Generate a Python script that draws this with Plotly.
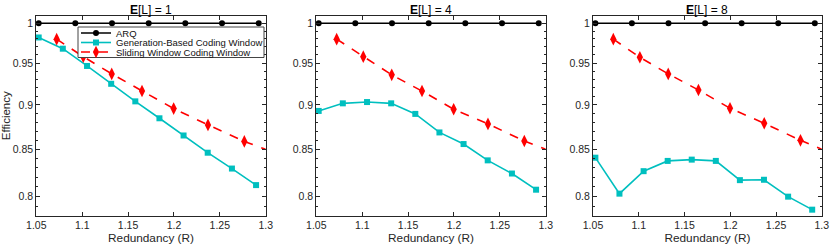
import plotly.graph_objects as go

# ---------------- data ----------------
panel_titles = ["<b>E</b>[L] = 1", "<b>E</b>[L] = 4", "<b>E</b>[L] = 8"]
series_names = ["ARQ", "Generation-Based Coding Window", "Sliding Window Coding Window"]

arq_x = [1.0526, 1.0925, 1.1325, 1.1725, 1.2124, 1.2524, 1.2924]
arq_y = [1, 1, 1, 1, 1, 1, 1]

gen_x = [1.0526, 1.0789, 1.1053, 1.1316, 1.1579, 1.1842, 1.2105, 1.2368, 1.2632, 1.2895]
gen_y1 = [0.9818, 0.9677, 0.9464, 0.9249, 0.9042, 0.8847, 0.8653, 0.8463, 0.8292, 0.8117]
gen_y4 = [0.8931, 0.9019, 0.9034, 0.9019, 0.8897, 0.8687, 0.8558, 0.8380, 0.8239, 0.8069]
gen_y8 = [0.8409, 0.8028, 0.8264, 0.8374, 0.8388, 0.8374, 0.8169, 0.8173, 0.7997, 0.7864]

sw_x = [1.0722, 1.1012, 1.1322, 1.1652, 1.1997, 1.2371, 1.2767]
sw_y1 = [0.9797, 0.9578, 0.9368, 0.9163, 0.8958, 0.8772, 0.8587]
sw_y4 = [0.9797, 0.9578, 0.9356, 0.9163, 0.8950, 0.8783, 0.8591]
sw_y8 = [0.9797, 0.9570, 0.9368, 0.9175, 0.8962, 0.8790, 0.8599]
sw_end_x = 1.30
sw_end_y = 0.850

x_ticks = [1.05, 1.1, 1.15, 1.2, 1.25, 1.3]
x_tick_text = ["1.05", "1.1", "1.15", "1.2", "1.25", "1.3"]
y_ticks = [0.8, 0.85, 0.9, 0.95, 1.0]
y_tick_text = ["0.8", "0.85", "0.9", "0.95", "1"]
y_minor = [0.79, 0.81, 0.82, 0.83, 0.84, 0.86, 0.87, 0.88, 0.89,
           0.91, 0.92, 0.93, 0.94, 0.96, 0.97, 0.98, 0.99]

gen_sets = [gen_y1, gen_y4, gen_y8]
sw_sets = [sw_y1, sw_y4, sw_y8]

# ---------------- styling ----------------
W, H = 830, 245
x_px = [(36.3, 265.7), (316.3, 545.7), (593.0, 821.8)]
y_top, y_bot = 15.5, 216.0
CYAN = "#00BFBF"
RED = "#FF0000"
AX = "#262626"
FONT = "Liberation Sans, Arial, sans-serif"


def px(v):
    return v / W


def py(v):
    return 1 - v / H


fig = go.Figure()

for i in range(3):
    xa = "x" if i == 0 else f"x{i+1}"
    ya = "y" if i == 0 else f"y{i+1}"
    leg = i == 0
    fig.add_trace(go.Scatter(x=arq_x, y=arq_y, mode="lines+markers", name=series_names[0],
                             line=dict(color="black", width=1.6),
                             marker=dict(symbol="circle", size=6, color="black"),
                             xaxis=xa, yaxis=ya, showlegend=leg, legend="legend",
                             cliponaxis=False))
    fig.add_trace(go.Scatter(x=gen_x, y=gen_sets[i], mode="lines+markers",
                             name=series_names[1],
                             line=dict(color=CYAN, width=1.6),
                             marker=dict(symbol="square", size=6, color=CYAN),
                             xaxis=xa, yaxis=ya, showlegend=leg, legend="legend2",
                             cliponaxis=False))
    fig.add_trace(go.Scatter(x=sw_x, y=sw_sets[i], mode="lines+markers",
                             name=series_names[2],
                             line=dict(color=RED, width=1.6, dash="dash"),
                             marker=dict(symbol="diamond-tall", size=9, color=RED),
                             xaxis=xa, yaxis=ya, showlegend=leg, legend="legend3",
                             cliponaxis=False))
    fig.add_trace(go.Scatter(x=[sw_x[-1], sw_end_x], y=[sw_sets[i][-1], sw_end_y],
                             mode="lines", line=dict(color=RED, width=1.6, dash="dash"),
                             xaxis=xa, yaxis=ya, showlegend=False, hoverinfo="skip"))

leg_left = 76
row_centers = [33.0, 42.5, 52.0]


def leg_cfg(yc):
    return dict(x=px(leg_left), y=py(yc), xanchor="left", yanchor="middle",
                bgcolor="rgba(0,0,0,0)", borderwidth=0,
                font=dict(size=9.5, color="#111111"), itemwidth=30)


layout = dict(
    template="none",
    width=W, height=H,
    margin=dict(l=0, r=0, t=0, b=0, pad=0),
    paper_bgcolor="white", plot_bgcolor="white",
    font=dict(family=FONT, size=10.5, color=AX),
    showlegend=True,
    legend=leg_cfg(row_centers[0]),
    legend2=leg_cfg(row_centers[1]),
    legend3=leg_cfg(row_centers[2]),
    shapes=[dict(type="rect", xref="paper", yref="paper", layer="above",
                 x0=px(leg_left + 2), x1=px(264), y0=py(57.5), y1=py(27),
                 fillcolor="white", line=dict(color="#444444", width=1))],
    annotations=[],
)

for i in range(3):
    xk = "xaxis" if i == 0 else f"xaxis{i+1}"
    yk = "yaxis" if i == 0 else f"yaxis{i+1}"
    xa_ref = "x" if i == 0 else f"x{i+1}"
    ya_ref = "y" if i == 0 else f"y{i+1}"
    x0, x1 = x_px[i]
    layout[xk] = dict(domain=[px(x0), px(x1)], anchor=ya_ref, range=[1.05, 1.3],
                      automargin=False,
                      tickvals=x_ticks, ticktext=x_tick_text,
                      ticks="inside", ticklen=4, tickcolor=AX,
                      ticklabelstandoff=-1,
                      showline=True, linecolor=AX, linewidth=1, mirror="allticks",
                      showgrid=False, zeroline=False,
                      tickfont=dict(size=10.5, color=AX),
                      title=dict(text="Redundancy (R)", font=dict(size=11.8, color=AX), standoff=0))
    layout[yk] = dict(domain=[py(y_bot), py(y_top)], anchor=xa_ref, type="log",
                      automargin=False,
                      range=[-0.1079, 0.00432],
                      tickvals=y_ticks, ticktext=y_tick_text,
                      ticks="inside", ticklen=4, tickcolor=AX,
                      minor=dict(tickvals=y_minor, ticks="inside", ticklen=2, tickcolor=AX),
                      showline=True, linecolor=AX, linewidth=1, mirror="allticks",
                      showgrid=False, zeroline=False,
                      tickfont=dict(size=10.5, color=AX))
    if i == 0:
        layout[yk]["title"] = dict(text="Efficiency", font=dict(size=11.5, color=AX), standoff=4)
    layout["annotations"].append(dict(text=panel_titles[i], x=px((x0 + x1) / 2), y=py(1),
                                      xref="paper", yref="paper", xanchor="center", yanchor="top",
                                      showarrow=False, font=dict(size=12, color="black")))

fig.update_layout(**layout)
fig.write_html("out.html", config={"displayModeBar": False},
               post_script="document.body.style.margin='0';document.body.style.overflow='hidden';")
